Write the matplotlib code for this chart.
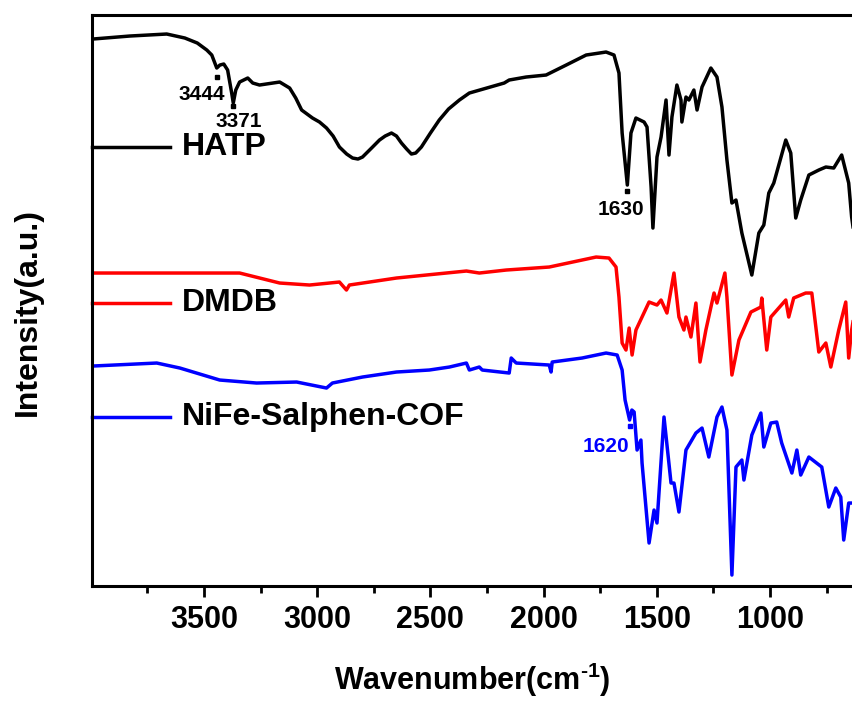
import matplotlib
matplotlib.use("Agg")
import matplotlib.pyplot as plt
from matplotlib.ticker import MultipleLocator

plt.rcParams['font.family'] = ['Liberation Sans', 'DejaVu Sans']
plt.rcParams['font.weight'] = 'bold'
plt.rcParams['mathtext.fontset'] = 'custom'
plt.rcParams['mathtext.rm'] = 'Liberation Sans:bold'
plt.rcParams['mathtext.default'] = 'rm'

# FTIR spectra, wavenumber (cm-1) vs stacked intensity (a.u.)
hatp_wn = [3991, 3828, 3665, 3585, 3530, 3488, 3466, 3444, 3430, 3413, 3396, 3378,
           3371, 3360, 3343, 3307, 3285, 3255, 3166, 3122, 3095, 3069, 3021, 2990,
           2959, 2930, 2902, 2870, 2844, 2820, 2800, 2760, 2725, 2700, 2672, 2650,
           2628, 2605, 2584, 2565, 2540, 2500, 2461, 2420, 2372, 2328, 2174, 2152,
           2077, 1989, 1900, 1812, 1724, 1689, 1667, 1653, 1630, 1614, 1592, 1556,
           1543, 1525, 1517, 1499, 1481, 1459, 1446, 1433, 1411, 1393, 1389, 1371,
           1358, 1336, 1322, 1300, 1261, 1234, 1212, 1190, 1168, 1150, 1124, 1080,
           1049, 1027, 1005, 983, 930, 908, 886, 864, 828, 784, 753, 718,
           683, 652, 639, 628]
hatp_int = [546, 549, 551, 547, 542, 535, 530, 517, 520, 521, 515, 492,
            482, 495, 503, 507, 502, 500, 503, 497, 487, 475, 467, 463,
            457, 449, 438, 431, 427, 426, 428, 437, 445, 449, 452, 449,
            442, 436, 431, 432, 438, 452, 465, 476, 485, 492, 502, 505,
            508, 510, 520, 530, 533, 530, 512, 452, 400, 452, 467, 463,
            458, 398, 357, 428, 448, 485, 430, 468, 500, 485, 463, 488,
            485, 495, 475, 498, 517, 508, 478, 425, 382, 385, 352, 310,
            352, 360, 392, 402, 445, 432, 367, 385, 410, 415, 418, 417,
            430, 402, 368, 350]

dmdb_wn = [3991, 3343, 3166, 3034, 2902, 2871, 2858, 2650, 2430, 2341, 2284, 2165,
           1975, 1768, 1711, 1680, 1667, 1653, 1636, 1622, 1609, 1592, 1534, 1499,
           1481, 1455, 1424, 1402, 1380, 1371, 1349, 1327, 1309, 1283, 1247, 1234,
           1199, 1190, 1168, 1137, 1084, 1040, 1036, 1014, 996, 930, 917, 895,
           842, 815, 784, 753, 731, 696, 665, 652, 639, 628]
dmdb_int = [312, 312, 302, 300, 303, 295, 300, 307, 312, 314, 312, 315,
            318, 328, 327, 318, 288, 242, 235, 257, 230, 255, 283, 280,
            285, 272, 312, 268, 255, 268, 248, 282, 223, 255, 292, 282,
            312, 288, 210, 245, 273, 278, 287, 235, 268, 285, 268, 287,
            292, 292, 233, 242, 218, 255, 283, 227, 255, 270]

cof_wn = [3991, 3709, 3607, 3431, 3268, 3091, 2959, 2933, 2800, 2650, 2505, 2416,
          2341, 2328, 2284, 2271, 2152, 2143, 2121, 1975, 1967, 1962, 1830, 1724,
          1675, 1653, 1640, 1620, 1610, 1600, 1587, 1570, 1565, 1534, 1512, 1499,
          1468, 1437, 1424, 1402, 1371, 1327, 1300, 1270, 1234, 1212, 1190, 1168,
          1150, 1124, 1115, 1080, 1040, 1027, 996, 970, 948, 903, 881, 864,
          828, 771, 740, 709, 687, 674, 652, 628]
cof_int = [219, 222, 217, 205, 202, 203, 197, 202, 208, 213, 215, 218,
           222, 215, 218, 215, 212, 227, 222, 220, 213, 223, 227, 232,
           230, 215, 185, 165, 175, 173, 135, 145, 122, 42, 75, 62,
           168, 102, 102, 73, 135, 152, 157, 128, 168, 178, 155, 10,
           118, 125, 105, 150, 172, 138, 162, 163, 142, 112, 135, 110,
           128, 118, 78, 97, 88, 45, 82, 82]

# marked bands: position, marker height, label position
peak_wn = [3444, 3371, 1630]
peak_int = [508, 479, 394]
peak_labels = ['3444', '3371', '1630']
peak_text_wn = [3409, 3347, 1658]
peak_text_int = [491, 464, 376]
peak_text_ha = ['right', 'center', 'center']

cof_peak_wn = 1620
cof_peak_int = 159

names = ['HATP', 'DMDB', 'NiFe-Salphen-COF']
colors = ['black', '#ff0000', '#0000ff']
name_ypos = [0.769, 0.496, 0.296]

fig = plt.figure(figsize=(8.53, 7.02), dpi=100)
ax = fig.add_axes([0.1079, 0.1652, 0.8921, 0.8134])

ax.plot(hatp_wn, hatp_int, color=colors[0], lw=2.5, solid_joinstyle='round')
ax.plot(dmdb_wn, dmdb_int, color=colors[1], lw=2.5, solid_joinstyle='round')
ax.plot(cof_wn, cof_int, color=colors[2], lw=2.5, solid_joinstyle='round')

ax.plot(peak_wn, peak_int, 's', color='black', ms=3)
for wn, yv, lab, ha in zip(peak_text_wn, peak_text_int, peak_labels, peak_text_ha):
    ax.text(wn, yv, lab, fontsize=15, fontweight='bold', ha=ha, va='center')
ax.plot([cof_peak_wn], [cof_peak_int], 's', color=colors[2], ms=3)
ax.text(1724, 139, '1620', fontsize=15, fontweight='bold', color=colors[2],
        ha='center', va='center')

# inline legend keys
for name, c, yp in zip(names, colors, name_ypos):
    ax.plot([0, 0.1025], [yp, yp], color=c, lw=2.5, transform=ax.transAxes,
            clip_on=False)
    ax.text(0.118, yp, name, transform=ax.transAxes, fontsize=23,
            fontweight='bold', va='center', ha='left')

ax.set_xlim(3995, 633)
ax.set_ylim(-1, 570)
ax.xaxis.set_major_locator(MultipleLocator(500))
ax.xaxis.set_minor_locator(MultipleLocator(250))
ax.set_yticks([])

for side in ['left', 'bottom', 'top']:
    ax.spines[side].set_linewidth(2.2)
ax.spines['right'].set_visible(False)

ax.tick_params(axis='x', which='major', direction='out', length=8, width=2,
               labelsize=22, pad=6)
ax.tick_params(axis='x', which='minor', direction='out', length=5, width=2)
for lab in ax.get_xticklabels():
    lab.set_fontweight('bold')

ax.set_xlabel(r'Wavenumber(cm$^{\text{-}1}$)', fontsize=22, fontweight='bold',
              labelpad=18)
ax.set_ylabel('Intensity(a.u.)', fontsize=23, fontweight='bold')
ax.yaxis.set_label_coords(-0.064, 0.48)

fig.savefig('out.png', dpi=100)
